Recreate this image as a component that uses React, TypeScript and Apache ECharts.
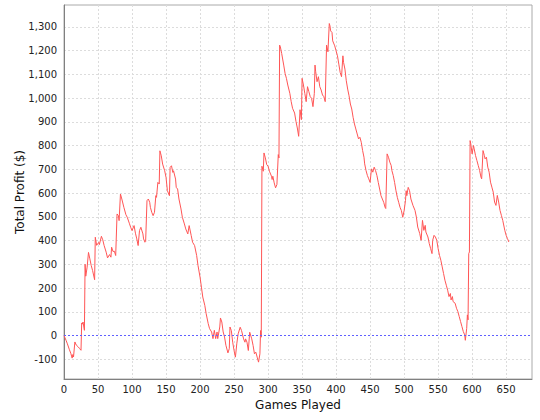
import React, { useEffect, useRef } from "react";
import * as echarts from "echarts";

const games = [
  0, 3, 5, 8, 10, 12, 13, 14, 16, 18, 21, 23, 25, 26, 27, 28, 30, 31, 32, 34, 36, 38, 40, 42, 45, 46, 48, 51, 52, 55, 57, 59,
  62, 64, 67, 69, 70, 72, 74, 76, 78, 80, 81, 83, 85, 88, 91, 93, 96, 98, 100, 103, 105, 107, 109, 111, 113, 116, 117, 119,
  120, 122, 124, 126, 127, 129, 131, 133, 135, 136, 138, 140, 141, 143, 145, 148, 150, 152, 155, 156, 158, 160, 161, 164,
  165, 167, 169, 172, 174, 177, 179, 182, 184, 185, 187, 189, 192, 195, 197, 200, 202, 204, 207, 209, 212, 214, 217, 219,
  221, 223, 225, 226, 229, 230, 232, 234, 236, 238, 241, 243, 244, 246, 248, 250, 252, 254, 256, 259, 261, 264, 266, 267,
  269, 271, 273, 276, 278, 280, 282, 284, 286, 288, 289, 290, 291, 293, 294, 296, 298, 300, 302, 305, 306, 307, 309, 311,
  313, 315, 316, 317, 318, 320, 323, 325, 327, 329, 332, 334, 336, 339, 341, 343, 345, 347, 349, 350, 352, 354, 356, 358,
  360, 362, 364, 366, 368, 369, 370, 372, 374, 376, 378, 380, 382, 384, 386, 388, 390, 391, 392, 394, 395, 398, 400, 402,
  404, 406, 408, 410, 411, 413, 415, 417, 419, 421, 423, 425, 427, 429, 431, 433, 435, 437, 439, 441, 442, 444, 446, 448,
  450, 452, 454, 456, 458, 460, 462, 464, 466, 468, 470, 472, 473, 475, 477, 479, 481, 482, 484, 486, 488, 490, 492, 494,
  496, 498, 500, 502, 503, 504, 506, 508, 510, 513, 516, 518, 520, 523, 525, 527, 529, 531, 532, 535, 537, 539, 541, 542,
  544, 546, 548, 550, 552, 554, 556, 558, 560, 562, 564, 566, 568, 569, 571, 572, 575, 577, 579, 581, 583, 585, 587, 589,
  590, 592, 593, 594, 595, 596, 597, 598, 600, 602, 603, 605, 607, 609, 611, 613, 614, 616, 618, 619, 621, 623, 625, 627,
  629, 631, 633, 635, 637, 639, 641, 643, 645, 647, 648, 650, 652, 654,
];

const profit = [
  0, -20, -35, -60, -75, -95, -80, -90, -27, -40, -48, -55, -62, 53, 48, 57, 22, 300, 250, 288, 350, 323, 295, 274, 235, 414,
  380, 392, 383, 418, 403, 379, 351, 327, 341, 330, 372, 354, 355, 337, 512, 505, 484, 596, 575, 540, 509, 498, 473, 456,
  442, 463, 431, 407, 379, 442, 456, 428, 407, 393,
  396, 568, 575, 561, 540, 519, 505, 519, 589, 582, 645, 638, 778, 757, 722, 694, 666, 610, 589, 708, 715, 687, 694, 659,
  624, 617, 575, 533, 498, 470, 449, 428, 463, 449, 421, 393, 379, 337, 295, 246, 204, 162, 127, 92, 50, 29, 15, -13,
  22, -13, 15, -13, 36, 74, 57, 15, -6, -41, -73, -55, 36, 21, -28, -63, -91, -35, 7, 35, 21, -14, -28, -14,
  -28, -63, 14, -14, -42, -77, -70, -91, -112, -77, 21, -7, 713, 692, 769, 748, 720, 713, 692, 671, 657, 671, 643, 622,
  636, 762, 748, 1223, 1216, 1188, 1139, 1104, 1083, 1055, 1020, 985, 957, 937, 902, 874, 839, 951, 909, 1083, 1055, 1020, 985, 1048,
  1027, 1006, 999, 964, 1020, 1139, 1111, 1069, 1090, 1048, 1034, 1013, 1006, 985, 1223, 1195, 1314, 1304, 1283, 1276, 1241, 1220, 1199, 1178,
  1143, 1108, 1090, 1178, 1150, 1122, 1073, 1038, 1010, 975, 954, 919, 891, 870, 849, 828, 835, 814, 779, 751, 723, 695, 674, 660,
  645, 702, 688, 709, 695, 674, 645, 617, 589, 575, 561, 540, 535, 765, 751, 730, 716, 695, 674, 645, 610, 582, 561, 540,
  526, 498, 526, 568, 610, 589, 624, 610, 575, 548, 527, 499, 457, 429, 401, 485, 443, 464, 436, 415, 387, 366, 345, 401,
  422, 415, 401, 366, 338, 317, 289, 261, 233, 212, 191, 164, 177, 150, 164, 143, 136, 115, 101, 80, 59, 38, 17, 3,
  -20, 30, 87, 66, 345, 352, 821, 807, 765, 800, 786, 758, 737, 716, 695, 667, 660, 779, 758, 744, 751, 709, 688, 646,
  625, 604, 562, 548, 590, 562, 527, 506, 485, 457, 443, 422, 408, 394,
];

const yTicks = [-100, 0, 100, 200, 300, 400, 500, 600, 700, 800, 900, 1000, 1100, 1200, 1300];
const xTicks = [0, 50, 100, 150, 200, 250, 300, 350, 400, 450, 500, 550, 600, 650];

const FONT = "DejaVu Sans";

export default function App() {
  const ref = useRef<HTMLDivElement>(null);
  useEffect(() => {
    if (!ref.current) return;
    const chart = echarts.init(ref.current, undefined, { renderer: "svg" });
    const gridLine = { show: true, lineStyle: { color: "#dcdcdc", type: [2, 2], width: 1 } };
    chart.setOption({
      animation: false,
      backgroundColor: "#ffffff",
      grid: {
        left: 64,
        top: 5,
        right: 8,
        bottom: 41,
        show: true,
        borderColor: "#aaaaaa",
        borderWidth: 1,
        backgroundColor: "#ffffff",
      },
      xAxis: {
        type: "value",
        min: 0,
        max: 688,
        axisLine: { show: true, onZero: false, lineStyle: { color: "#808080" } },
        axisTick: { show: false, customValues: xTicks },
        splitLine: gridLine,
        axisLabel: {
          customValues: xTicks,
          color: "#222222",
          fontSize: 10,
          fontFamily: FONT,
          margin: 5,
        },
        name: "Games Played",
        nameLocation: "middle",
        nameGap: 20,
        nameMoveOverlap: false,
        nameTextStyle: { fontSize: 12, fontFamily: FONT, color: "#111111" },
      },
      yAxis: {
        type: "value",
        min: -183,
        max: 1392,
        axisLine: { show: true, onZero: false, lineStyle: { color: "#808080" } },
        axisTick: { show: false, customValues: yTicks },
        splitLine: gridLine,
        axisLabel: {
          customValues: yTicks,
          color: "#222222",
          fontSize: 10,
          fontFamily: FONT,
          margin: 7,
          formatter: (v: number) => v.toLocaleString("en-US"),
        },
        name: "Total Profit ($)",
        nameLocation: "middle",
        nameGap: 38,
        nameMoveOverlap: false,
        nameTextStyle: { fontSize: 12, fontFamily: FONT, color: "#111111" },
      },
      series: [
        {
          type: "line",
          data: games.map((g, i) => [g, profit[i]]),
          symbol: "none",
          lineStyle: { color: "#ff5555", width: 1 },
          itemStyle: { color: "#ff5555" },
          markLine: {
            silent: true,
            symbol: "none",
            label: { show: false },
            lineStyle: { color: "#6060ff", type: [2, 2], width: 1 },
            data: [{ yAxis: 0 }],
          },
        },
      ],
    });
    return () => chart.dispose();
  }, []);
  return (
    <div
      ref={ref}
      style={{ position: "fixed", left: 0, top: 0, width: 540, height: 420, background: "#fff" }}
    />
  );
}
